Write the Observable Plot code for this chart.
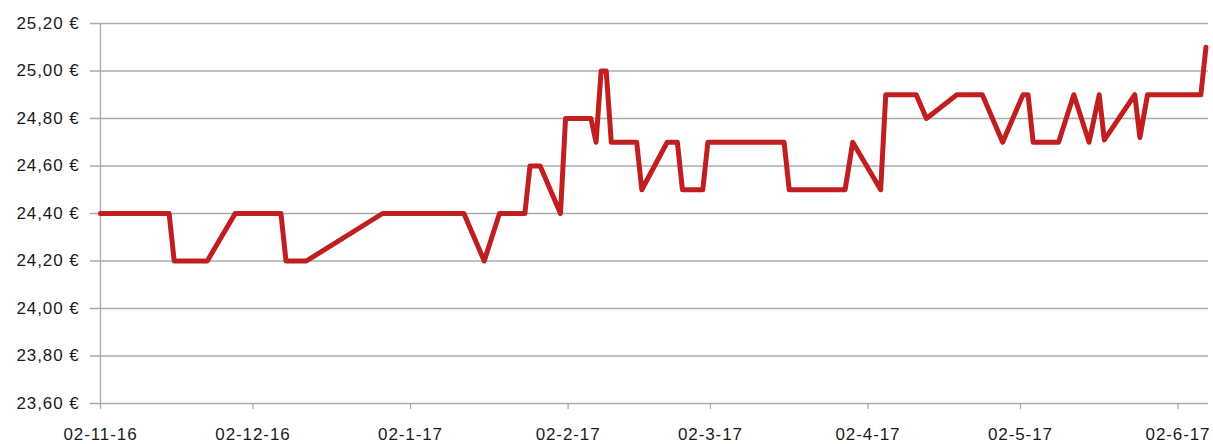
<!DOCTYPE html>
<html>
<head>
<meta charset="utf-8">
<script src="https://cdn.jsdelivr.net/npm/d3@7"></script>
<script src="https://cdn.jsdelivr.net/npm/@observablehq/plot@0.6"></script>
<style>
  html, body { margin: 0; padding: 0; background: #fff; }
  svg { display: block; }
  svg text { letter-spacing: 0.9px; }
</style>
</head>
<body>
<div id="chart"></div>
<script>
const dates = [
  "2016-11-02T00:00Z","2016-11-15T12:00Z","2016-11-16T12:00Z","2016-11-23T00:00Z","2016-11-28T12:00Z",
  "2016-12-07T12:00Z","2016-12-08T12:00Z","2016-12-12T12:00Z","2016-12-27T12:00Z",
  "2017-01-12T12:00Z","2017-01-16T12:00Z","2017-01-19T12:00Z","2017-01-24T12:00Z","2017-01-25T12:00Z",
  "2017-01-27T12:00Z","2017-01-31T12:00Z","2017-02-01T12:00Z","2017-02-06T12:00Z","2017-02-07T12:00Z",
  "2017-02-08T12:00Z","2017-02-09T12:00Z","2017-02-10T12:00Z","2017-02-15T12:00Z","2017-02-16T12:00Z",
  "2017-02-21T12:00Z","2017-02-23T12:00Z","2017-02-24T12:00Z","2017-02-28T12:00Z","2017-03-01T12:00Z",
  "2017-03-16T12:00Z","2017-03-17T12:00Z","2017-03-28T12:00Z","2017-03-30T00:00Z","2017-04-04T12:00Z",
  "2017-04-05T12:00Z","2017-04-11T12:00Z","2017-04-13T12:00Z","2017-04-19T12:00Z","2017-04-24T12:00Z",
  "2017-04-28T12:00Z","2017-05-02T12:00Z","2017-05-03T12:00Z","2017-05-04T12:00Z","2017-05-09T12:00Z",
  "2017-05-12T12:00Z","2017-05-15T12:00Z","2017-05-17T12:00Z","2017-05-18T12:00Z","2017-05-24T12:00Z",
  "2017-05-25T12:00Z","2017-05-27T00:00Z","2017-06-06T12:00Z","2017-06-07T12:00Z"
];
const prices = [
  24.40, 24.40, 24.20, 24.20, 24.40,
  24.40, 24.20, 24.20, 24.40,
  24.40, 24.20, 24.40, 24.40, 24.60,
  24.60, 24.40, 24.80, 24.80, 24.70,
  25.00, 25.00, 24.70, 24.70, 24.50,
  24.70, 24.70, 24.50, 24.50, 24.70,
  24.70, 24.50, 24.50, 24.70, 24.50,
  24.90, 24.90, 24.80, 24.90, 24.90,
  24.70, 24.90, 24.90, 24.70, 24.70,
  24.90, 24.70, 24.90, 24.71, 24.90,
  24.72, 24.90, 24.90, 25.10
];
const xTickDates = ["2016-11-02","2016-12-02","2017-01-02","2017-02-02","2017-03-02","2017-04-02","2017-05-02","2017-06-02"];
const yTicks = [23.6, 23.8, 24.0, 24.2, 24.4, 24.6, 24.8, 25.0, 25.2];

const data = dates.map((d, i) => ({date: new Date(d), price: prices[i]}));
const xTicks = xTickDates.map(d => new Date(d + "T00:00Z"));
const fmtDate = d3.utcFormat("%d-%-m-%y");
const fmtPrice = v => v.toFixed(2).replace(".", ",") + " €";

const chart = Plot.plot({
  width: 1213,
  height: 444,
  marginLeft: 100,
  marginRight: 5,
  marginTop: 23,
  marginBottom: 41,
  style: {fontFamily: "'Liberation Sans', Arial, sans-serif", fontSize: "17px", color: "#1a1a1a", background: "#fff"},
  x: {type: "utc", label: null, domain: [new Date("2016-11-02T00:00Z"), new Date("2017-06-08T00:00Z")]},
  y: {label: null, domain: [23.6, 25.2]},
  marks: [
    Plot.ruleY(yTicks, {x1: new Date("2016-10-31T00:00Z"), x2: new Date("2017-06-08T00:00Z"), stroke: "#ababab", strokeWidth: 1.3}),
    Plot.ruleX([new Date("2016-11-02T00:00Z")], {stroke: "#ababab", strokeWidth: 1.3}),
    Plot.axisY({ticks: yTicks, tickFormat: fmtPrice, tickSize: 0, tickPadding: 21, fill: "#1a1a1a", fontSize: 17, label: null}),
    Plot.axisX({ticks: xTicks, tickFormat: fmtDate, tickSize: 6, tickPadding: 18, stroke: "#ababab", strokeWidth: 1.3, fill: "#1a1a1a", fontSize: 17, label: null}),
    Plot.line(data, {x: "date", y: "price", stroke: "#c01e1f", strokeWidth: 5, strokeLinejoin: "round", strokeLinecap: "round"})
  ]
});
document.getElementById("chart").appendChild(chart);
</script>
</body>
</html>
